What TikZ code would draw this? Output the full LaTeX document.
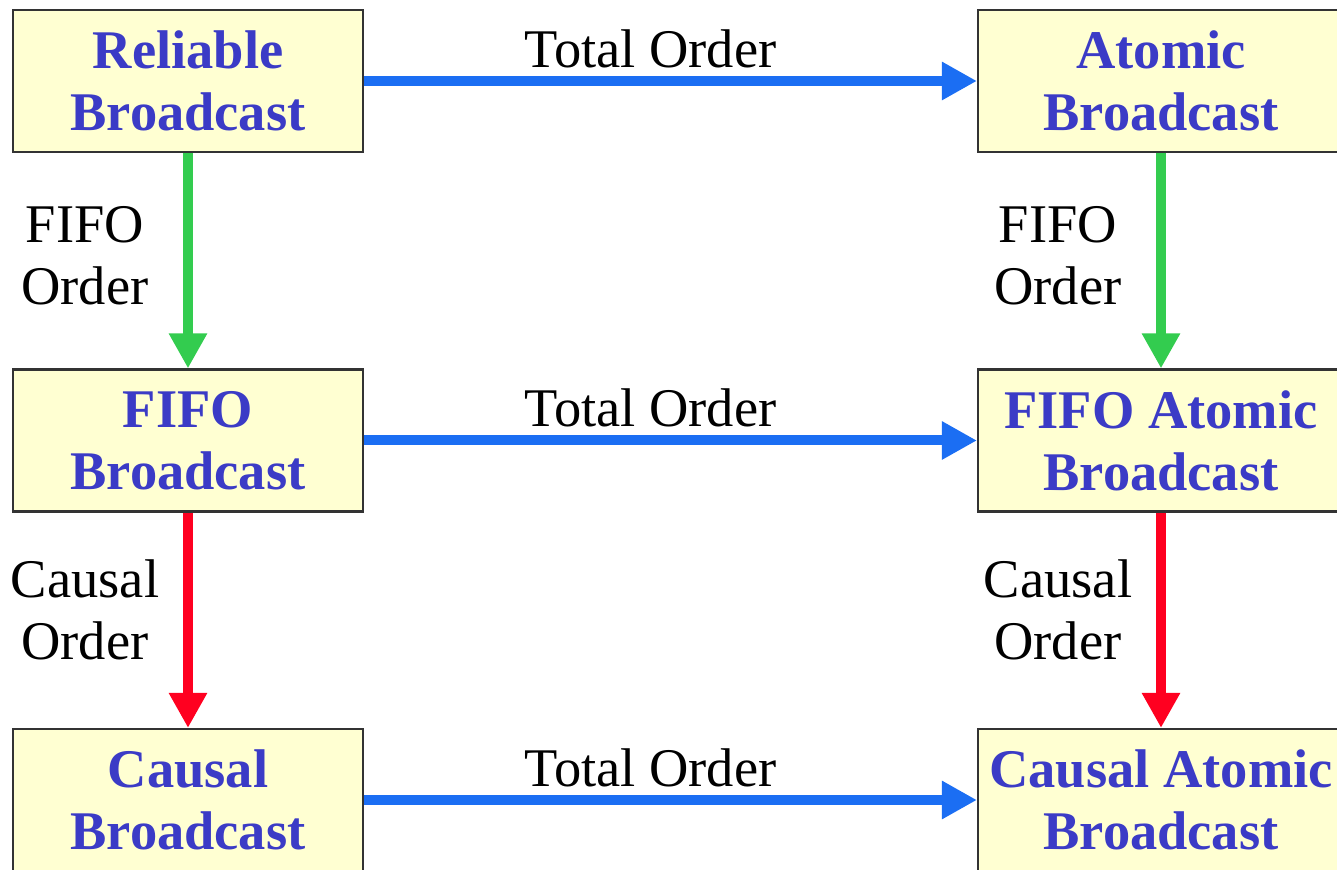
\documentclass[tikz,border=0pt]{standalone}
\usepackage{fontspec}
\setmainfont{Liberation Serif}
\usepackage{xcolor}
\usepackage{tikz}
\usetikzlibrary{arrows.meta, positioning}

\definecolor{boxfill}{HTML}{FFFFD2}
\definecolor{bcastblue}{HTML}{3B3BC6}
\definecolor{totblue}{HTML}{1B6EF3}
\definecolor{fifogreen}{HTML}{33CC4F}
\definecolor{causred}{HTML}{FF0020}

\begin{document}
\begin{tikzpicture}[->,
			>={Triangle[length=0.35cm, width=0.36cm]},
			line width=0.1cm,
			bcast/.style={draw=black!80, line width=0.6pt, fill=boxfill, text=bcastblue,
				font=\fontsize{15.5}{17.6}\selectfont\bfseries, align=center,
				minimum width=3.5cm, minimum height=1.42cm, inner sep=0pt},
			wide/.style={minimum width=3.66cm},
			ord/.style={font=\fontsize{15.5}{17.6}\selectfont, text=black, inner sep=0pt},
			sideord/.style={ord, align=center, text width=1.6cm}]
			
			\useasboundingbox (0,0) rectangle (13.37,8.69);
			\clip (0,0) rectangle (13.37,8.69);
			
			% broadcast boxes
			\node[bcast] (rb) at (1.88,7.88) {Reliable\\Broadcast};
			\node[bcast, wide] (ab) at (11.61,7.88) {Atomic\\Broadcast};
			\node[bcast] (fb) at (1.88,4.285) {FIFO\\Broadcast};
			\node[bcast, wide] (fab) at (11.61,4.285) {FIFO Atomic\\Broadcast};
			\node[bcast] (cb) at (1.88,0.69) {Causal\\Broadcast};
			\node[bcast, wide] (cab) at (11.61,0.69) {Causal Atomic\\Broadcast};
			
			% total order
			\draw[totblue] (rb) -- node[ord, above=0.08cm, xshift=-0.2cm] {Total Order} (ab);
			\draw[totblue] (fb) -- node[ord, above=0.08cm, xshift=-0.2cm] {Total Order} (fab);
			\draw[totblue] (cb) -- node[ord, above=0.08cm, xshift=-0.2cm] {Total Order} (cab);
			
			% fifo order
			\draw[fifogreen] (rb) -- node[sideord, left=0.18cm, yshift=0.05cm] {FIFO\\Order} (fb);
			\draw[fifogreen] (ab) -- node[sideord, left=0.18cm, yshift=0.05cm] {FIFO\\Order} (fab);
			
			% causal order
			\draw[causred] (fb) -- node[sideord, left=0.18cm, yshift=0.1cm] {Causal\\Order} (cb);
			\draw[causred] (fab) -- node[sideord, left=0.18cm, yshift=0.1cm] {Causal\\Order} (cab);
		\end{tikzpicture}
\end{document}
